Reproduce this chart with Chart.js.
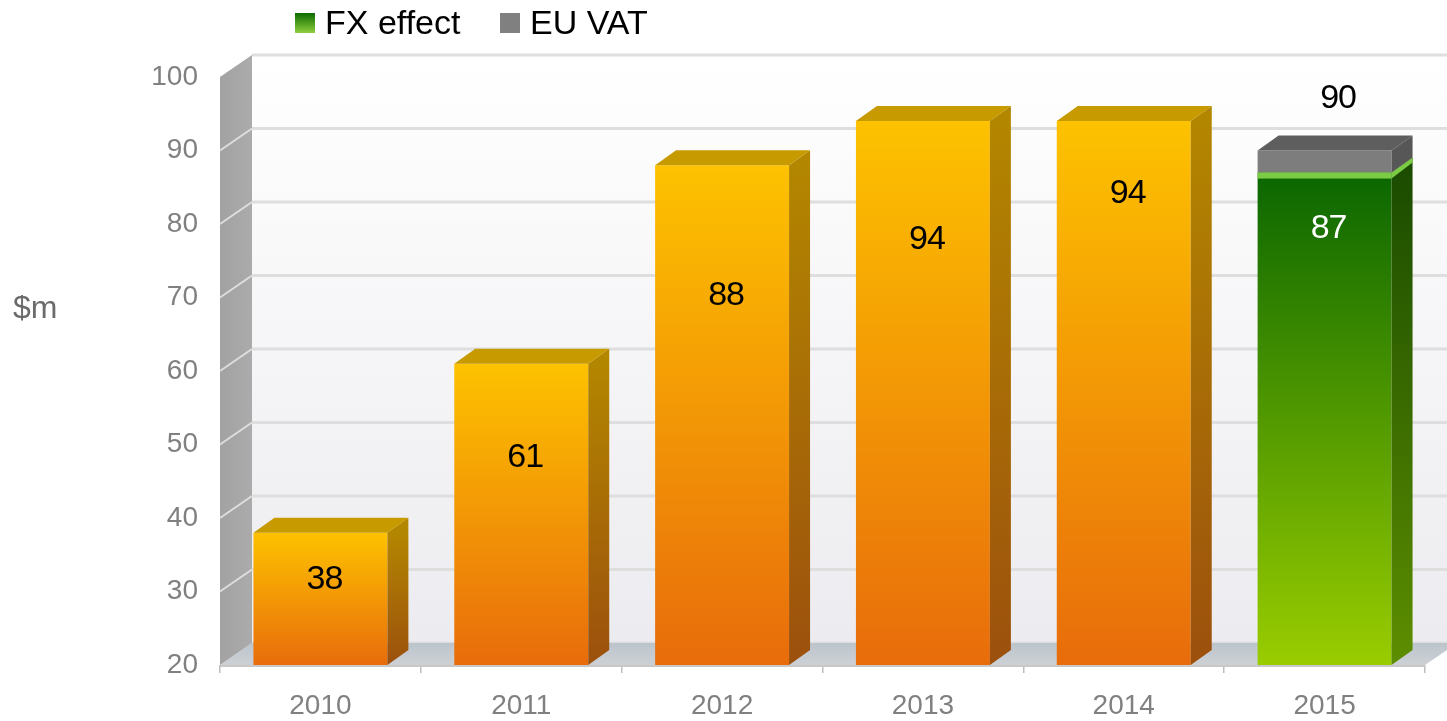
<!DOCTYPE html>
<html><head><meta charset="utf-8">
<script src="https://cdn.jsdelivr.net/npm/chart.js@4/dist/chart.umd.min.js"></script>
<style>html,body{margin:0;padding:0;background:#fff;overflow:hidden}canvas{display:block}</style>
</head><body>
<canvas id="c" width="1447" height="721"></canvas>
<script>
// ---- data ----
const years    = ['2010', '2011', '2012', '2013', '2014', '2015'];
const revenue  = [38, 61, 88, 94, 94, null];
const fxEffect = [null, null, null, null, null, 87];
const euVat    = [null, null, null, null, null, 3];
const yTicks   = [20, 30, 40, 50, 60, 70, 80, 90, 100];
const yTitle   = '$m';

const FONT = "'Liberation Sans', Arial, sans-serif";
const yMin = Math.min(...yTicks), yMax = Math.max(...yTicks);

function barGrad(c0, c1, fallback) {
  return (ctx) => {
    const chart = ctx.chart, a = chart.chartArea;
    if (!a || ctx.raw == null) return fallback;
    const y = chart.scales.y;
    const top = y.getPixelForValue(ctx.raw);
    const g = chart.ctx.createLinearGradient(0, top, 0, a.bottom);
    g.addColorStop(0, c0); g.addColorStop(1, c1);
    return g;
  };
}

const depth3d = {
  id: 'depth3d',
  beforeDatasetsDraw(chart, args, o) {
    const {ctx, chartArea: a, scales: {y}} = chart;
    const W = chart.width;
    const dx = o.wallDx, dy = o.wallDy;
    const yTop = y.getPixelForValue(y.max), yBot = a.bottom;
    ctx.save();
    // back wall
    let g = ctx.createLinearGradient(0, yTop + dy, 0, yBot + dy);
    g.addColorStop(0, '#FFFFFF'); g.addColorStop(1, '#ECECF0');
    ctx.fillStyle = g;
    ctx.fillRect(a.left + dx, yTop + dy, W - (a.left + dx), yBot - yTop);
    // back wall gridlines
    ctx.strokeStyle = '#DEDEDE'; ctx.lineWidth = 3;
    y.ticks.forEach(t => {
      const py = y.getPixelForValue(t.value) + dy;
      ctx.beginPath(); ctx.moveTo(a.left + dx, py); ctx.lineTo(W, py); ctx.stroke();
    });
    // floor
    g = ctx.createLinearGradient(0, yBot + dy, 0, yBot);
    g.addColorStop(0, '#BCC4CC'); g.addColorStop(1, '#CDD1D5');
    ctx.fillStyle = g;
    ctx.beginPath();
    ctx.moveTo(a.left, yBot); ctx.lineTo(a.left + dx, yBot + dy);
    ctx.lineTo(a.right + dx, yBot + dy); ctx.lineTo(a.right, yBot);
    ctx.closePath(); ctx.fill();
    // left wall
    g = ctx.createLinearGradient(a.left, 0, a.left + dx, 0);
    g.addColorStop(0, '#A2A2A2'); g.addColorStop(1, '#ABABAB');
    ctx.fillStyle = g;
    ctx.beginPath();
    ctx.moveTo(a.left, yTop); ctx.lineTo(a.left + dx, yTop + dy);
    ctx.lineTo(a.left + dx, yBot + dy); ctx.lineTo(a.left, yBot);
    ctx.closePath(); ctx.fill();
    // left wall gridlines
    ctx.strokeStyle = 'rgba(235,235,235,0.8)'; ctx.lineWidth = 2;
    y.ticks.forEach(t => {
      const py = y.getPixelForValue(t.value);
      if (t.value === y.min || t.value === y.max) return;
      ctx.beginPath(); ctx.moveTo(a.left, py); ctx.lineTo(a.left + dx, py + dy); ctx.stroke();
    });
    // floor front edge / axis line
    ctx.strokeStyle = '#C8C8C8'; ctx.lineWidth = 2;
    ctx.beginPath(); ctx.moveTo(a.left, yBot + 1); ctx.lineTo(a.right, yBot + 1); ctx.stroke();
    ctx.restore();
  },
  afterDatasetsDraw(chart, args, o) {
    const {ctx, chartArea: a, scales: {y}} = chart;
    const bx = o.barDx, by = o.barDy;
    const ds = chart.data.datasets;
    ctx.save();
    ds.forEach((d, di) => {
      const meta = chart.getDatasetMeta(di);
      const f = o.faces[di];
      meta.data.forEach((el, i) => {
        if (d.data[i] == null) return;
        const p = el.getProps(['x', 'y', 'base', 'width'], true);
        const L = p.x - p.width / 2, R = p.x + p.width / 2;
        const T = Math.min(p.y, p.base), B = Math.min(Math.max(p.y, p.base), a.bottom);
        // side face
        const g = ctx.createLinearGradient(0, T, 0, B);
        g.addColorStop(0, f.side[0]); g.addColorStop(1, f.side[1]);
        ctx.fillStyle = g;
        ctx.beginPath();
        ctx.moveTo(R, T); ctx.lineTo(R + bx, T + by); ctx.lineTo(R + bx, B + by); ctx.lineTo(R, B);
        ctx.closePath(); ctx.fill();
        if (f.strip) {
          ctx.fillStyle = f.strip;
          ctx.fillRect(L, T, R - L, 6);
          ctx.beginPath();
          ctx.moveTo(R, T); ctx.lineTo(R + bx, T + by); ctx.lineTo(R + bx, T + by + 5); ctx.lineTo(R, T + 6);
          ctx.closePath(); ctx.fill();
        }
        const isTop = !ds.some((d2, dj) => dj > di && d2.data[i] != null);
        if (isTop) {
          ctx.fillStyle = f.top;
          ctx.beginPath();
          ctx.moveTo(L, T); ctx.lineTo(L + bx, T + by); ctx.lineTo(R + bx, T + by); ctx.lineTo(R, T);
          ctx.closePath(); ctx.fill();
        }
      });
    });
    // value labels
    ctx.font = `${o.labelSize}px ${FONT}`;
    ctx.textAlign = 'center';
    ctx.textBaseline = 'alphabetic';
    try { ctx.letterSpacing = '-1px'; } catch (e) {}
    const cap = o.labelSize * 0.716 / 2;
    ds.forEach((d, di) => {
      const f = o.faces[di];
      if (!f.label) return;
      const meta = chart.getDatasetMeta(di);
      meta.data.forEach((el, i) => {
        if (d.data[i] == null) return;
        ctx.fillStyle = f.label;
        ctx.fillText(String(Math.round(d.data[i])), el.x + 4, y.getPixelForValue(o.labelAt[i]) + cap);
      });
    });
    years.forEach((_, i) => {
      const vals = ds.map(d => d.data[i]).filter(v => v != null);
      if (vals.length < 2) return;
      const el = chart.getDatasetMeta(0).data[i];
      const total = vals.reduce((s, v) => s + v, 0);
      ctx.fillStyle = '#000';
      ctx.fillText(String(Math.round(total)), el.x + bx / 2 + 3, y.getPixelForValue(o.totalAt) + cap);
    });
    ctx.restore();
  },
  afterDraw(chart, args, o) {
    const ctx = chart.ctx;
    ctx.save();
    ctx.font = `32px ${FONT}`;
    ctx.fillStyle = '#6B6B6B';
    ctx.textAlign = 'left'; ctx.textBaseline = 'alphabetic';
    ctx.fillText(yTitle, 13, 318);
    ctx.font = `34px ${FONT}`;
    let k = 0;
    chart.data.datasets.forEach(d => {
      if (!d.legendBox) return;
      const x = o.legendX[k++];
      let fill = d.legendBox;
      if (Array.isArray(fill)) {
        const g = ctx.createLinearGradient(0, 13, 0, 33);
        g.addColorStop(0, fill[0]); g.addColorStop(1, fill[1]);
        fill = g;
      }
      ctx.fillStyle = fill;
      ctx.fillRect(x, 13, 20, 20);
      ctx.fillStyle = '#000';
      ctx.fillText(d.label, x + 30, 34);
    });
    ctx.restore();
  }
};

new Chart(document.getElementById('c'), {
  type: 'bar',
  data: {
    labels: years,
    datasets: [
      { label: 'Revenue', data: revenue, stack: 's', base: yMin,
        backgroundColor: barGrad('#FDC200', '#E86C0B', '#F5A000') },
      { label: 'FX effect', data: fxEffect, stack: 's', base: yMin,
        legendBox: ['#0C6A00', '#8FD03F'],
        backgroundColor: barGrad('#0A6600', '#9ACD00', '#4A9000') },
      { label: 'EU VAT', data: euVat, stack: 's',
        legendBox: '#808080',
        backgroundColor: '#7D7D7D' }
    ]
  },
  options: {
    responsive: false,
    animation: false,
    devicePixelRatio: 1,
    barPercentage: 0.667,
    categoryPercentage: 1,
    layout: { padding: { top: 77, right: 22, left: 0, bottom: 0 } },
    plugins: {
      legend: { display: false },
      tooltip: { enabled: false },
      depth3d: {
        wallDx: 32, wallDy: -22,
        barDx: 21, barDy: -15,
        labelSize: 34,
        labelAt: [32, 48.6, 70.7, 78.2, 84.5, 79.8],
        totalAt: 97.5,
        legendX: [295, 500],
        faces: [
          { side: ['#B38600', '#9C500D'], top: '#C79A00', label: '#000' },
          { side: ['#1B4C00', '#5D8E00'], top: '#2D6A12', label: '#FFF', strip: '#7CCB45' },
          { side: ['#575757', '#575757'], top: '#5E5E5E' }
        ]
      }
    },
    scales: {
      x: {
        stacked: true,
        afterFit: s => { s.height = 56; },
        grid: { offset: true, drawOnChartArea: false, drawTicks: true, tickLength: 8, color: '#BDBDBD', lineWidth: 1.5 },
        border: { display: false },
        ticks: { color: '#808080', font: { size: 28, family: FONT }, padding: 16 }
      },
      y: {
        stacked: true,
        min: yMin, max: yMax,
        afterFit: s => { s.width = 220; },
        afterBuildTicks: s => { s.ticks = yTicks.map(v => ({ value: v })); },
        grid: { display: false, drawTicks: false },
        border: { display: false },
        ticks: { color: '#808080', font: { size: 28, family: FONT }, padding: 22 }
      }
    }
  },
  plugins: [depth3d]
});
</script>
</body></html>
